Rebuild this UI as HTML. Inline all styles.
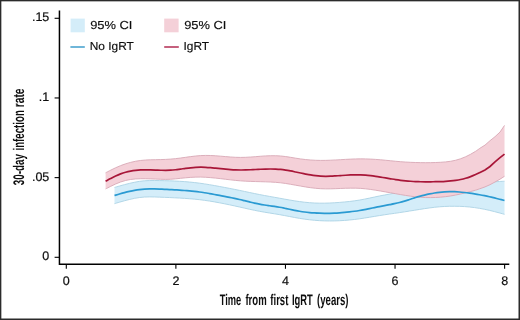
<!DOCTYPE html>
<html><head><meta charset="utf-8"><style>
html,body{margin:0;padding:0;background:#fff;}
svg{display:block;will-change:transform;font-family:"Liberation Sans",sans-serif;}
svg text{text-rendering:geometricPrecision;fill:#0d0d0d;}
</style></head><body>
<svg width="520" height="320" viewBox="0 0 520 320">
<rect x="0.6" y="0.6" width="518.65" height="318.65" fill="#fff" stroke="#2b2b2b" stroke-width="1.5"/>
<path d="M114.50,187.46 C115.33,187.22 117.83,186.47 119.50,186.00 C121.17,185.53 122.83,185.07 124.50,184.63 C126.17,184.20 127.83,183.78 129.50,183.38 C131.17,182.99 132.83,182.59 134.50,182.25 C136.17,181.91 137.83,181.60 139.50,181.35 C141.17,181.11 142.83,180.93 144.50,180.79 C146.17,180.66 147.83,180.59 149.50,180.54 C151.17,180.48 152.83,180.48 154.50,180.49 C156.17,180.49 157.83,180.53 159.50,180.56 C161.17,180.59 162.83,180.63 164.50,180.68 C166.17,180.72 167.83,180.77 169.50,180.82 C171.17,180.88 172.83,180.94 174.50,181.02 C176.17,181.10 177.83,181.18 179.50,181.28 C181.17,181.38 182.83,181.49 184.50,181.62 C186.17,181.74 187.83,181.88 189.50,182.04 C191.17,182.19 192.83,182.36 194.50,182.55 C196.17,182.74 197.83,182.95 199.50,183.17 C201.17,183.39 202.83,183.63 204.50,183.89 C206.17,184.14 207.83,184.41 209.50,184.69 C211.17,184.97 212.83,185.26 214.50,185.56 C216.17,185.86 217.83,186.17 219.50,186.48 C221.17,186.78 222.83,187.10 224.50,187.41 C226.17,187.73 227.83,188.05 229.50,188.38 C231.17,188.70 232.83,189.03 234.50,189.36 C236.17,189.70 237.83,190.04 239.50,190.38 C241.17,190.72 242.83,191.08 244.50,191.43 C246.17,191.78 247.83,192.14 249.50,192.49 C251.17,192.84 252.83,193.19 254.50,193.54 C256.17,193.88 257.83,194.22 259.50,194.54 C261.17,194.87 262.83,195.19 264.50,195.50 C266.17,195.81 267.83,196.11 269.50,196.41 C271.17,196.71 272.83,197.00 274.50,197.30 C276.17,197.59 277.83,197.89 279.50,198.19 C281.17,198.49 282.83,198.80 284.50,199.10 C286.17,199.40 287.83,199.70 289.50,199.99 C291.17,200.28 292.83,200.57 294.50,200.84 C296.17,201.10 297.83,201.36 299.50,201.59 C301.17,201.82 302.83,202.02 304.50,202.21 C306.17,202.39 307.83,202.55 309.50,202.68 C311.17,202.81 312.83,202.92 314.50,203.00 C316.17,203.08 317.83,203.13 319.50,203.16 C321.17,203.18 322.83,203.18 324.50,203.16 C326.17,203.13 327.83,203.08 329.50,203.01 C331.17,202.95 332.83,202.86 334.50,202.75 C336.17,202.65 337.83,202.53 339.50,202.40 C341.17,202.27 342.83,202.13 344.50,201.98 C346.17,201.82 347.83,201.66 349.50,201.47 C351.17,201.28 352.83,201.07 354.50,200.84 C356.17,200.61 357.83,200.35 359.50,200.07 C361.17,199.78 362.83,199.47 364.50,199.14 C366.17,198.81 367.83,198.45 369.50,198.10 C371.17,197.75 372.83,197.37 374.50,197.02 C376.17,196.67 377.83,196.31 379.50,195.98 C381.17,195.64 382.83,195.33 384.50,195.02 C386.17,194.71 387.83,194.42 389.50,194.11 C391.17,193.80 392.83,193.49 394.50,193.16 C396.17,192.83 397.83,192.48 399.50,192.10 C401.17,191.72 402.83,191.30 404.50,190.88 C406.17,190.45 407.83,189.99 409.50,189.55 C411.17,189.10 412.83,188.64 414.50,188.21 C416.17,187.79 417.83,187.36 419.50,186.98 C421.17,186.60 422.83,186.25 424.50,185.93 C426.17,185.60 427.83,185.32 429.50,185.05 C431.17,184.78 432.83,184.54 434.50,184.31 C436.17,184.08 437.83,183.88 439.50,183.68 C441.17,183.48 442.83,183.29 444.50,183.12 C446.17,182.95 447.83,182.79 449.50,182.65 C451.17,182.52 452.83,182.40 454.50,182.31 C456.17,182.21 457.83,182.15 459.50,182.10 C461.17,182.05 462.83,182.03 464.50,182.02 C466.17,182.01 467.83,182.01 469.50,182.02 C471.17,182.03 472.83,182.05 474.50,182.07 C476.17,182.08 477.83,182.11 479.50,182.11 C481.17,182.11 482.83,182.11 484.50,182.09 C486.17,182.06 487.83,182.02 489.50,181.96 C491.17,181.91 492.83,181.83 494.50,181.75 C496.17,181.67 497.83,181.59 499.50,181.50 C501.17,181.41 503.67,181.27 504.50,181.22 L504.50,214.33 C503.67,214.10 501.17,213.40 499.50,212.94 C497.83,212.49 496.17,212.04 494.50,211.62 C492.83,211.19 491.17,210.78 489.50,210.39 C487.83,210.01 486.17,209.64 484.50,209.30 C482.83,208.97 481.17,208.65 479.50,208.36 C477.83,208.08 476.17,207.82 474.50,207.59 C472.83,207.36 471.17,207.16 469.50,206.99 C467.83,206.83 466.17,206.69 464.50,206.58 C462.83,206.48 461.17,206.40 459.50,206.34 C457.83,206.29 456.17,206.26 454.50,206.25 C452.83,206.24 451.17,206.25 449.50,206.29 C447.83,206.32 446.17,206.38 444.50,206.47 C442.83,206.55 441.17,206.67 439.50,206.81 C437.83,206.95 436.17,207.12 434.50,207.31 C432.83,207.50 431.17,207.72 429.50,207.94 C427.83,208.17 426.17,208.42 424.50,208.67 C422.83,208.92 421.17,209.19 419.50,209.45 C417.83,209.72 416.17,209.99 414.50,210.26 C412.83,210.53 411.17,210.80 409.50,211.06 C407.83,211.33 406.17,211.60 404.50,211.86 C402.83,212.12 401.17,212.37 399.50,212.62 C397.83,212.87 396.17,213.11 394.50,213.35 C392.83,213.59 391.17,213.82 389.50,214.06 C387.83,214.31 386.17,214.54 384.50,214.79 C382.83,215.04 381.17,215.30 379.50,215.57 C377.83,215.83 376.17,216.12 374.50,216.40 C372.83,216.68 371.17,216.97 369.50,217.24 C367.83,217.52 366.17,217.80 364.50,218.07 C362.83,218.33 361.17,218.59 359.50,218.82 C357.83,219.05 356.17,219.27 354.50,219.47 C352.83,219.67 351.17,219.85 349.50,220.01 C347.83,220.17 346.17,220.31 344.50,220.43 C342.83,220.55 341.17,220.65 339.50,220.73 C337.83,220.81 336.17,220.87 334.50,220.91 C332.83,220.95 331.17,220.97 329.50,220.96 C327.83,220.96 326.17,220.93 324.50,220.88 C322.83,220.83 321.17,220.76 319.50,220.66 C317.83,220.56 316.17,220.43 314.50,220.29 C312.83,220.14 311.17,219.97 309.50,219.78 C307.83,219.59 306.17,219.37 304.50,219.13 C302.83,218.90 301.17,218.63 299.50,218.36 C297.83,218.08 296.17,217.78 294.50,217.47 C292.83,217.16 291.17,216.84 289.50,216.52 C287.83,216.20 286.17,215.87 284.50,215.56 C282.83,215.24 281.17,214.93 279.50,214.64 C277.83,214.35 276.17,214.08 274.50,213.80 C272.83,213.53 271.17,213.27 269.50,213.00 C267.83,212.73 266.17,212.47 264.50,212.19 C262.83,211.90 261.17,211.62 259.50,211.30 C257.83,210.99 256.17,210.66 254.50,210.32 C252.83,209.97 251.17,209.61 249.50,209.25 C247.83,208.89 246.17,208.51 244.50,208.14 C242.83,207.77 241.17,207.39 239.50,207.01 C237.83,206.64 236.17,206.27 234.50,205.90 C232.83,205.54 231.17,205.18 229.50,204.82 C227.83,204.47 226.17,204.12 224.50,203.79 C222.83,203.45 221.17,203.12 219.50,202.80 C217.83,202.49 216.17,202.18 214.50,201.89 C212.83,201.60 211.17,201.32 209.50,201.06 C207.83,200.80 206.17,200.55 204.50,200.32 C202.83,200.09 201.17,199.87 199.50,199.68 C197.83,199.48 196.17,199.31 194.50,199.15 C192.83,198.99 191.17,198.85 189.50,198.72 C187.83,198.59 186.17,198.47 184.50,198.36 C182.83,198.25 181.17,198.15 179.50,198.06 C177.83,197.97 176.17,197.88 174.50,197.80 C172.83,197.71 171.17,197.64 169.50,197.56 C167.83,197.49 166.17,197.42 164.50,197.35 C162.83,197.28 161.17,197.21 159.50,197.15 C157.83,197.09 156.17,197.01 154.50,196.97 C152.83,196.93 151.17,196.89 149.50,196.91 C147.83,196.92 146.17,196.96 144.50,197.06 C142.83,197.16 141.17,197.31 139.50,197.53 C137.83,197.74 136.17,198.03 134.50,198.36 C132.83,198.68 131.17,199.07 129.50,199.47 C127.83,199.87 126.17,200.30 124.50,200.75 C122.83,201.20 121.17,201.69 119.50,202.17 C117.83,202.66 115.33,203.43 114.50,203.68 Z" fill="#d4edf9"/>
<path d="M114.50,187.46 C115.33,187.22 117.83,186.47 119.50,186.00 C121.17,185.53 122.83,185.07 124.50,184.63 C126.17,184.20 127.83,183.78 129.50,183.38 C131.17,182.99 132.83,182.59 134.50,182.25 C136.17,181.91 137.83,181.60 139.50,181.35 C141.17,181.11 142.83,180.93 144.50,180.79 C146.17,180.66 147.83,180.59 149.50,180.54 C151.17,180.48 152.83,180.48 154.50,180.49 C156.17,180.49 157.83,180.53 159.50,180.56 C161.17,180.59 162.83,180.63 164.50,180.68 C166.17,180.72 167.83,180.77 169.50,180.82 C171.17,180.88 172.83,180.94 174.50,181.02 C176.17,181.10 177.83,181.18 179.50,181.28 C181.17,181.38 182.83,181.49 184.50,181.62 C186.17,181.74 187.83,181.88 189.50,182.04 C191.17,182.19 192.83,182.36 194.50,182.55 C196.17,182.74 197.83,182.95 199.50,183.17 C201.17,183.39 202.83,183.63 204.50,183.89 C206.17,184.14 207.83,184.41 209.50,184.69 C211.17,184.97 212.83,185.26 214.50,185.56 C216.17,185.86 217.83,186.17 219.50,186.48 C221.17,186.78 222.83,187.10 224.50,187.41 C226.17,187.73 227.83,188.05 229.50,188.38 C231.17,188.70 232.83,189.03 234.50,189.36 C236.17,189.70 237.83,190.04 239.50,190.38 C241.17,190.72 242.83,191.08 244.50,191.43 C246.17,191.78 247.83,192.14 249.50,192.49 C251.17,192.84 252.83,193.19 254.50,193.54 C256.17,193.88 257.83,194.22 259.50,194.54 C261.17,194.87 262.83,195.19 264.50,195.50 C266.17,195.81 267.83,196.11 269.50,196.41 C271.17,196.71 272.83,197.00 274.50,197.30 C276.17,197.59 277.83,197.89 279.50,198.19 C281.17,198.49 282.83,198.80 284.50,199.10 C286.17,199.40 287.83,199.70 289.50,199.99 C291.17,200.28 292.83,200.57 294.50,200.84 C296.17,201.10 297.83,201.36 299.50,201.59 C301.17,201.82 302.83,202.02 304.50,202.21 C306.17,202.39 307.83,202.55 309.50,202.68 C311.17,202.81 312.83,202.92 314.50,203.00 C316.17,203.08 317.83,203.13 319.50,203.16 C321.17,203.18 322.83,203.18 324.50,203.16 C326.17,203.13 327.83,203.08 329.50,203.01 C331.17,202.95 332.83,202.86 334.50,202.75 C336.17,202.65 337.83,202.53 339.50,202.40 C341.17,202.27 342.83,202.13 344.50,201.98 C346.17,201.82 347.83,201.66 349.50,201.47 C351.17,201.28 352.83,201.07 354.50,200.84 C356.17,200.61 357.83,200.35 359.50,200.07 C361.17,199.78 362.83,199.47 364.50,199.14 C366.17,198.81 367.83,198.45 369.50,198.10 C371.17,197.75 372.83,197.37 374.50,197.02 C376.17,196.67 377.83,196.31 379.50,195.98 C381.17,195.64 382.83,195.33 384.50,195.02 C386.17,194.71 387.83,194.42 389.50,194.11 C391.17,193.80 392.83,193.49 394.50,193.16 C396.17,192.83 397.83,192.48 399.50,192.10 C401.17,191.72 402.83,191.30 404.50,190.88 C406.17,190.45 407.83,189.99 409.50,189.55 C411.17,189.10 412.83,188.64 414.50,188.21 C416.17,187.79 417.83,187.36 419.50,186.98 C421.17,186.60 422.83,186.25 424.50,185.93 C426.17,185.60 427.83,185.32 429.50,185.05 C431.17,184.78 432.83,184.54 434.50,184.31 C436.17,184.08 437.83,183.88 439.50,183.68 C441.17,183.48 442.83,183.29 444.50,183.12 C446.17,182.95 447.83,182.79 449.50,182.65 C451.17,182.52 452.83,182.40 454.50,182.31 C456.17,182.21 457.83,182.15 459.50,182.10 C461.17,182.05 462.83,182.03 464.50,182.02 C466.17,182.01 467.83,182.01 469.50,182.02 C471.17,182.03 472.83,182.05 474.50,182.07 C476.17,182.08 477.83,182.11 479.50,182.11 C481.17,182.11 482.83,182.11 484.50,182.09 C486.17,182.06 487.83,182.02 489.50,181.96 C491.17,181.91 492.83,181.83 494.50,181.75 C496.17,181.67 497.83,181.59 499.50,181.50 C501.17,181.41 503.67,181.27 504.50,181.22 M114.50,203.68 C115.33,203.43 117.83,202.66 119.50,202.17 C121.17,201.69 122.83,201.20 124.50,200.75 C126.17,200.30 127.83,199.87 129.50,199.47 C131.17,199.07 132.83,198.68 134.50,198.36 C136.17,198.03 137.83,197.74 139.50,197.53 C141.17,197.31 142.83,197.16 144.50,197.06 C146.17,196.96 147.83,196.92 149.50,196.91 C151.17,196.89 152.83,196.93 154.50,196.97 C156.17,197.01 157.83,197.09 159.50,197.15 C161.17,197.21 162.83,197.28 164.50,197.35 C166.17,197.42 167.83,197.49 169.50,197.56 C171.17,197.64 172.83,197.71 174.50,197.80 C176.17,197.88 177.83,197.97 179.50,198.06 C181.17,198.15 182.83,198.25 184.50,198.36 C186.17,198.47 187.83,198.59 189.50,198.72 C191.17,198.85 192.83,198.99 194.50,199.15 C196.17,199.31 197.83,199.48 199.50,199.68 C201.17,199.87 202.83,200.09 204.50,200.32 C206.17,200.55 207.83,200.80 209.50,201.06 C211.17,201.32 212.83,201.60 214.50,201.89 C216.17,202.18 217.83,202.49 219.50,202.80 C221.17,203.12 222.83,203.45 224.50,203.79 C226.17,204.12 227.83,204.47 229.50,204.82 C231.17,205.18 232.83,205.54 234.50,205.90 C236.17,206.27 237.83,206.64 239.50,207.01 C241.17,207.39 242.83,207.77 244.50,208.14 C246.17,208.51 247.83,208.89 249.50,209.25 C251.17,209.61 252.83,209.97 254.50,210.32 C256.17,210.66 257.83,210.99 259.50,211.30 C261.17,211.62 262.83,211.90 264.50,212.19 C266.17,212.47 267.83,212.73 269.50,213.00 C271.17,213.27 272.83,213.53 274.50,213.80 C276.17,214.08 277.83,214.35 279.50,214.64 C281.17,214.93 282.83,215.24 284.50,215.56 C286.17,215.87 287.83,216.20 289.50,216.52 C291.17,216.84 292.83,217.16 294.50,217.47 C296.17,217.78 297.83,218.08 299.50,218.36 C301.17,218.63 302.83,218.90 304.50,219.13 C306.17,219.37 307.83,219.59 309.50,219.78 C311.17,219.97 312.83,220.14 314.50,220.29 C316.17,220.43 317.83,220.56 319.50,220.66 C321.17,220.76 322.83,220.83 324.50,220.88 C326.17,220.93 327.83,220.96 329.50,220.96 C331.17,220.97 332.83,220.95 334.50,220.91 C336.17,220.87 337.83,220.81 339.50,220.73 C341.17,220.65 342.83,220.55 344.50,220.43 C346.17,220.31 347.83,220.17 349.50,220.01 C351.17,219.85 352.83,219.67 354.50,219.47 C356.17,219.27 357.83,219.05 359.50,218.82 C361.17,218.59 362.83,218.33 364.50,218.07 C366.17,217.80 367.83,217.52 369.50,217.24 C371.17,216.97 372.83,216.68 374.50,216.40 C376.17,216.12 377.83,215.83 379.50,215.57 C381.17,215.30 382.83,215.04 384.50,214.79 C386.17,214.54 387.83,214.31 389.50,214.06 C391.17,213.82 392.83,213.59 394.50,213.35 C396.17,213.11 397.83,212.87 399.50,212.62 C401.17,212.37 402.83,212.12 404.50,211.86 C406.17,211.60 407.83,211.33 409.50,211.06 C411.17,210.80 412.83,210.53 414.50,210.26 C416.17,209.99 417.83,209.72 419.50,209.45 C421.17,209.19 422.83,208.92 424.50,208.67 C426.17,208.42 427.83,208.17 429.50,207.94 C431.17,207.72 432.83,207.50 434.50,207.31 C436.17,207.12 437.83,206.95 439.50,206.81 C441.17,206.67 442.83,206.55 444.50,206.47 C446.17,206.38 447.83,206.32 449.50,206.29 C451.17,206.25 452.83,206.24 454.50,206.25 C456.17,206.26 457.83,206.29 459.50,206.34 C461.17,206.40 462.83,206.48 464.50,206.58 C466.17,206.69 467.83,206.83 469.50,206.99 C471.17,207.16 472.83,207.36 474.50,207.59 C476.17,207.82 477.83,208.08 479.50,208.36 C481.17,208.65 482.83,208.97 484.50,209.30 C486.17,209.64 487.83,210.01 489.50,210.39 C491.17,210.78 492.83,211.19 494.50,211.62 C496.17,212.04 497.83,212.49 499.50,212.94 C501.17,213.40 503.67,214.10 504.50,214.33" fill="none" stroke="#acd3e4" stroke-width="0.9"/>
<path d="M105.60,172.80 C106.43,172.37 108.93,171.05 110.60,170.21 C112.27,169.38 113.93,168.55 115.60,167.78 C117.27,167.02 118.93,166.29 120.60,165.63 C122.27,164.97 123.93,164.38 125.60,163.84 C127.27,163.30 128.93,162.82 130.60,162.39 C132.27,161.96 133.93,161.58 135.60,161.26 C137.27,160.95 138.93,160.69 140.60,160.48 C142.27,160.27 143.93,160.14 145.60,160.02 C147.27,159.91 148.93,159.85 150.60,159.80 C152.27,159.74 153.93,159.73 155.60,159.69 C157.27,159.66 158.93,159.64 160.60,159.59 C162.27,159.54 163.93,159.49 165.60,159.41 C167.27,159.32 168.93,159.22 170.60,159.09 C172.27,158.96 173.93,158.80 175.60,158.63 C177.27,158.45 178.93,158.24 180.60,158.02 C182.27,157.81 183.93,157.56 185.60,157.32 C187.27,157.09 188.93,156.84 190.60,156.62 C192.27,156.40 193.93,156.18 195.60,156.00 C197.27,155.83 198.93,155.68 200.60,155.58 C202.27,155.49 203.93,155.44 205.60,155.43 C207.27,155.41 208.93,155.45 210.60,155.51 C212.27,155.56 213.93,155.66 215.60,155.77 C217.27,155.88 218.93,156.02 220.60,156.16 C222.27,156.30 223.93,156.45 225.60,156.60 C227.27,156.74 228.93,156.88 230.60,157.00 C232.27,157.12 233.93,157.23 235.60,157.30 C237.27,157.37 238.93,157.42 240.60,157.42 C242.27,157.42 243.93,157.37 245.60,157.31 C247.27,157.24 248.93,157.13 250.60,157.02 C252.27,156.92 253.93,156.78 255.60,156.65 C257.27,156.52 258.93,156.38 260.60,156.26 C262.27,156.14 263.93,156.01 265.60,155.92 C267.27,155.83 268.93,155.75 270.60,155.72 C272.27,155.69 273.93,155.67 275.60,155.72 C277.27,155.76 278.93,155.85 280.60,155.99 C282.27,156.13 283.93,156.34 285.60,156.56 C287.27,156.78 288.93,157.06 290.60,157.32 C292.27,157.59 293.93,157.89 295.60,158.16 C297.27,158.43 298.93,158.70 300.60,158.93 C302.27,159.17 303.93,159.38 305.60,159.55 C307.27,159.73 308.93,159.88 310.60,160.01 C312.27,160.13 313.93,160.22 315.60,160.29 C317.27,160.36 318.93,160.40 320.60,160.41 C322.27,160.42 323.93,160.40 325.60,160.37 C327.27,160.33 328.93,160.27 330.60,160.20 C332.27,160.13 333.93,160.05 335.60,159.96 C337.27,159.87 338.93,159.76 340.60,159.67 C342.27,159.57 343.93,159.47 345.60,159.38 C347.27,159.29 348.93,159.19 350.60,159.12 C352.27,159.05 353.93,158.98 355.60,158.94 C357.27,158.89 358.93,158.86 360.60,158.86 C362.27,158.86 363.93,158.88 365.60,158.92 C367.27,158.96 368.93,159.02 370.60,159.10 C372.27,159.18 373.93,159.28 375.60,159.40 C377.27,159.51 378.93,159.64 380.60,159.79 C382.27,159.93 383.93,160.09 385.60,160.25 C387.27,160.41 388.93,160.59 390.60,160.76 C392.27,160.92 393.93,161.09 395.60,161.25 C397.27,161.40 398.93,161.56 400.60,161.69 C402.27,161.82 403.93,161.94 405.60,162.05 C407.27,162.15 408.93,162.24 410.60,162.32 C412.27,162.40 413.93,162.46 415.60,162.51 C417.27,162.57 418.93,162.61 420.60,162.63 C422.27,162.66 423.93,162.68 425.60,162.69 C427.27,162.69 428.93,162.68 430.60,162.66 C432.27,162.63 433.93,162.59 435.60,162.53 C437.27,162.47 438.93,162.39 440.60,162.29 C442.27,162.19 443.93,162.08 445.60,161.91 C447.27,161.73 448.93,161.54 450.60,161.27 C452.27,160.99 453.93,160.67 455.60,160.25 C457.27,159.83 458.93,159.35 460.60,158.76 C462.27,158.18 463.93,157.52 465.60,156.76 C467.27,156.01 468.93,155.16 470.60,154.25 C472.27,153.34 474.03,152.32 475.60,151.31 C477.17,150.31 479.27,148.72 480.00,148.20 L485.00,145.10 L490.00,140.70 L495.00,136.70 L500.00,132.10 L504.50,125.40 L504.50,176.30 L500.00,179.20 L495.00,182.00 L490.00,184.70 L485.00,186.90 L480.00,188.70 C479.27,188.94 477.17,189.67 475.60,190.15 C474.03,190.62 472.27,191.10 470.60,191.54 C468.93,191.99 467.27,192.39 465.60,192.79 C463.93,193.20 462.27,193.60 460.60,193.98 C458.93,194.36 457.27,194.73 455.60,195.06 C453.93,195.39 452.27,195.70 450.60,195.96 C448.93,196.23 447.27,196.46 445.60,196.66 C443.93,196.86 442.27,197.03 440.60,197.17 C438.93,197.30 437.27,197.41 435.60,197.49 C433.93,197.56 432.27,197.61 430.60,197.62 C428.93,197.63 427.27,197.61 425.60,197.55 C423.93,197.50 422.27,197.41 420.60,197.29 C418.93,197.16 417.27,197.00 415.60,196.82 C413.93,196.64 412.27,196.42 410.60,196.18 C408.93,195.95 407.27,195.69 405.60,195.43 C403.93,195.16 402.27,194.87 400.60,194.59 C398.93,194.30 397.27,194.01 395.60,193.71 C393.93,193.42 392.27,193.12 390.60,192.82 C388.93,192.53 387.27,192.23 385.60,191.93 C383.93,191.64 382.27,191.34 380.60,191.06 C378.93,190.77 377.27,190.48 375.60,190.21 C373.93,189.94 372.27,189.68 370.60,189.45 C368.93,189.22 367.27,189.00 365.60,188.82 C363.93,188.64 362.27,188.49 360.60,188.38 C358.93,188.27 357.27,188.21 355.60,188.17 C353.93,188.13 352.27,188.14 350.60,188.16 C348.93,188.18 347.27,188.23 345.60,188.28 C343.93,188.34 342.27,188.41 340.60,188.48 C338.93,188.54 337.27,188.62 335.60,188.68 C333.93,188.74 332.27,188.80 330.60,188.82 C328.93,188.85 327.27,188.87 325.60,188.85 C323.93,188.83 322.27,188.79 320.60,188.69 C318.93,188.60 317.27,188.47 315.60,188.30 C313.93,188.14 312.27,187.93 310.60,187.70 C308.93,187.48 307.27,187.22 305.60,186.95 C303.93,186.68 302.27,186.39 300.60,186.09 C298.93,185.80 297.27,185.49 295.60,185.19 C293.93,184.89 292.27,184.58 290.60,184.30 C288.93,184.01 287.27,183.73 285.60,183.48 C283.93,183.23 282.27,183.00 280.60,182.81 C278.93,182.62 277.27,182.46 275.60,182.33 C273.93,182.20 272.27,182.11 270.60,182.02 C268.93,181.94 267.27,181.88 265.60,181.83 C263.93,181.77 262.27,181.73 260.60,181.69 C258.93,181.65 257.27,181.61 255.60,181.56 C253.93,181.51 252.27,181.46 250.60,181.40 C248.93,181.34 247.27,181.27 245.60,181.18 C243.93,181.08 242.27,180.98 240.60,180.85 C238.93,180.73 237.27,180.57 235.60,180.41 C233.93,180.24 232.27,180.06 230.60,179.87 C228.93,179.68 227.27,179.47 225.60,179.27 C223.93,179.07 222.27,178.87 220.60,178.67 C218.93,178.48 217.27,178.29 215.60,178.11 C213.93,177.94 212.27,177.77 210.60,177.63 C208.93,177.49 207.27,177.36 205.60,177.27 C203.93,177.18 202.27,177.11 200.60,177.09 C198.93,177.07 197.27,177.09 195.60,177.14 C193.93,177.19 192.27,177.28 190.60,177.39 C188.93,177.50 187.27,177.65 185.60,177.80 C183.93,177.95 182.27,178.13 180.60,178.31 C178.93,178.49 177.27,178.69 175.60,178.85 C173.93,179.01 172.27,179.18 170.60,179.27 C168.93,179.36 167.27,179.39 165.60,179.40 C163.93,179.40 162.27,179.35 160.60,179.29 C158.93,179.24 157.27,179.16 155.60,179.09 C153.93,179.02 152.27,178.94 150.60,178.88 C148.93,178.82 147.27,178.76 145.60,178.73 C143.93,178.71 142.27,178.69 140.60,178.72 C138.93,178.76 137.27,178.81 135.60,178.93 C133.93,179.06 132.27,179.22 130.60,179.48 C128.93,179.74 127.27,180.06 125.60,180.48 C123.93,180.90 122.27,181.40 120.60,181.99 C118.93,182.58 117.27,183.27 115.60,184.01 C113.93,184.74 112.27,185.57 110.60,186.40 C108.93,187.23 106.43,188.55 105.60,188.98 Z" fill="#f4d0d8"/>
<path d="M105.60,172.80 C106.43,172.37 108.93,171.05 110.60,170.21 C112.27,169.38 113.93,168.55 115.60,167.78 C117.27,167.02 118.93,166.29 120.60,165.63 C122.27,164.97 123.93,164.38 125.60,163.84 C127.27,163.30 128.93,162.82 130.60,162.39 C132.27,161.96 133.93,161.58 135.60,161.26 C137.27,160.95 138.93,160.69 140.60,160.48 C142.27,160.27 143.93,160.14 145.60,160.02 C147.27,159.91 148.93,159.85 150.60,159.80 C152.27,159.74 153.93,159.73 155.60,159.69 C157.27,159.66 158.93,159.64 160.60,159.59 C162.27,159.54 163.93,159.49 165.60,159.41 C167.27,159.32 168.93,159.22 170.60,159.09 C172.27,158.96 173.93,158.80 175.60,158.63 C177.27,158.45 178.93,158.24 180.60,158.02 C182.27,157.81 183.93,157.56 185.60,157.32 C187.27,157.09 188.93,156.84 190.60,156.62 C192.27,156.40 193.93,156.18 195.60,156.00 C197.27,155.83 198.93,155.68 200.60,155.58 C202.27,155.49 203.93,155.44 205.60,155.43 C207.27,155.41 208.93,155.45 210.60,155.51 C212.27,155.56 213.93,155.66 215.60,155.77 C217.27,155.88 218.93,156.02 220.60,156.16 C222.27,156.30 223.93,156.45 225.60,156.60 C227.27,156.74 228.93,156.88 230.60,157.00 C232.27,157.12 233.93,157.23 235.60,157.30 C237.27,157.37 238.93,157.42 240.60,157.42 C242.27,157.42 243.93,157.37 245.60,157.31 C247.27,157.24 248.93,157.13 250.60,157.02 C252.27,156.92 253.93,156.78 255.60,156.65 C257.27,156.52 258.93,156.38 260.60,156.26 C262.27,156.14 263.93,156.01 265.60,155.92 C267.27,155.83 268.93,155.75 270.60,155.72 C272.27,155.69 273.93,155.67 275.60,155.72 C277.27,155.76 278.93,155.85 280.60,155.99 C282.27,156.13 283.93,156.34 285.60,156.56 C287.27,156.78 288.93,157.06 290.60,157.32 C292.27,157.59 293.93,157.89 295.60,158.16 C297.27,158.43 298.93,158.70 300.60,158.93 C302.27,159.17 303.93,159.38 305.60,159.55 C307.27,159.73 308.93,159.88 310.60,160.01 C312.27,160.13 313.93,160.22 315.60,160.29 C317.27,160.36 318.93,160.40 320.60,160.41 C322.27,160.42 323.93,160.40 325.60,160.37 C327.27,160.33 328.93,160.27 330.60,160.20 C332.27,160.13 333.93,160.05 335.60,159.96 C337.27,159.87 338.93,159.76 340.60,159.67 C342.27,159.57 343.93,159.47 345.60,159.38 C347.27,159.29 348.93,159.19 350.60,159.12 C352.27,159.05 353.93,158.98 355.60,158.94 C357.27,158.89 358.93,158.86 360.60,158.86 C362.27,158.86 363.93,158.88 365.60,158.92 C367.27,158.96 368.93,159.02 370.60,159.10 C372.27,159.18 373.93,159.28 375.60,159.40 C377.27,159.51 378.93,159.64 380.60,159.79 C382.27,159.93 383.93,160.09 385.60,160.25 C387.27,160.41 388.93,160.59 390.60,160.76 C392.27,160.92 393.93,161.09 395.60,161.25 C397.27,161.40 398.93,161.56 400.60,161.69 C402.27,161.82 403.93,161.94 405.60,162.05 C407.27,162.15 408.93,162.24 410.60,162.32 C412.27,162.40 413.93,162.46 415.60,162.51 C417.27,162.57 418.93,162.61 420.60,162.63 C422.27,162.66 423.93,162.68 425.60,162.69 C427.27,162.69 428.93,162.68 430.60,162.66 C432.27,162.63 433.93,162.59 435.60,162.53 C437.27,162.47 438.93,162.39 440.60,162.29 C442.27,162.19 443.93,162.08 445.60,161.91 C447.27,161.73 448.93,161.54 450.60,161.27 C452.27,160.99 453.93,160.67 455.60,160.25 C457.27,159.83 458.93,159.35 460.60,158.76 C462.27,158.18 463.93,157.52 465.60,156.76 C467.27,156.01 468.93,155.16 470.60,154.25 C472.27,153.34 474.03,152.32 475.60,151.31 C477.17,150.31 479.27,148.72 480.00,148.20 L485.00,145.10 L490.00,140.70 L495.00,136.70 L500.00,132.10 L504.50,125.40 M105.60,188.98 C106.43,188.55 108.93,187.23 110.60,186.40 C112.27,185.57 113.93,184.74 115.60,184.01 C117.27,183.27 118.93,182.58 120.60,181.99 C122.27,181.40 123.93,180.90 125.60,180.48 C127.27,180.06 128.93,179.74 130.60,179.48 C132.27,179.22 133.93,179.06 135.60,178.93 C137.27,178.81 138.93,178.76 140.60,178.72 C142.27,178.69 143.93,178.71 145.60,178.73 C147.27,178.76 148.93,178.82 150.60,178.88 C152.27,178.94 153.93,179.02 155.60,179.09 C157.27,179.16 158.93,179.24 160.60,179.29 C162.27,179.35 163.93,179.40 165.60,179.40 C167.27,179.39 168.93,179.36 170.60,179.27 C172.27,179.18 173.93,179.01 175.60,178.85 C177.27,178.69 178.93,178.49 180.60,178.31 C182.27,178.13 183.93,177.95 185.60,177.80 C187.27,177.65 188.93,177.50 190.60,177.39 C192.27,177.28 193.93,177.19 195.60,177.14 C197.27,177.09 198.93,177.07 200.60,177.09 C202.27,177.11 203.93,177.18 205.60,177.27 C207.27,177.36 208.93,177.49 210.60,177.63 C212.27,177.77 213.93,177.94 215.60,178.11 C217.27,178.29 218.93,178.48 220.60,178.67 C222.27,178.87 223.93,179.07 225.60,179.27 C227.27,179.47 228.93,179.68 230.60,179.87 C232.27,180.06 233.93,180.24 235.60,180.41 C237.27,180.57 238.93,180.73 240.60,180.85 C242.27,180.98 243.93,181.08 245.60,181.18 C247.27,181.27 248.93,181.34 250.60,181.40 C252.27,181.46 253.93,181.51 255.60,181.56 C257.27,181.61 258.93,181.65 260.60,181.69 C262.27,181.73 263.93,181.77 265.60,181.83 C267.27,181.88 268.93,181.94 270.60,182.02 C272.27,182.11 273.93,182.20 275.60,182.33 C277.27,182.46 278.93,182.62 280.60,182.81 C282.27,183.00 283.93,183.23 285.60,183.48 C287.27,183.73 288.93,184.01 290.60,184.30 C292.27,184.58 293.93,184.89 295.60,185.19 C297.27,185.49 298.93,185.80 300.60,186.09 C302.27,186.39 303.93,186.68 305.60,186.95 C307.27,187.22 308.93,187.48 310.60,187.70 C312.27,187.93 313.93,188.14 315.60,188.30 C317.27,188.47 318.93,188.60 320.60,188.69 C322.27,188.79 323.93,188.83 325.60,188.85 C327.27,188.87 328.93,188.85 330.60,188.82 C332.27,188.80 333.93,188.74 335.60,188.68 C337.27,188.62 338.93,188.54 340.60,188.48 C342.27,188.41 343.93,188.34 345.60,188.28 C347.27,188.23 348.93,188.18 350.60,188.16 C352.27,188.14 353.93,188.13 355.60,188.17 C357.27,188.21 358.93,188.27 360.60,188.38 C362.27,188.49 363.93,188.64 365.60,188.82 C367.27,189.00 368.93,189.22 370.60,189.45 C372.27,189.68 373.93,189.94 375.60,190.21 C377.27,190.48 378.93,190.77 380.60,191.06 C382.27,191.34 383.93,191.64 385.60,191.93 C387.27,192.23 388.93,192.53 390.60,192.82 C392.27,193.12 393.93,193.42 395.60,193.71 C397.27,194.01 398.93,194.30 400.60,194.59 C402.27,194.87 403.93,195.16 405.60,195.43 C407.27,195.69 408.93,195.95 410.60,196.18 C412.27,196.42 413.93,196.64 415.60,196.82 C417.27,197.00 418.93,197.16 420.60,197.29 C422.27,197.41 423.93,197.50 425.60,197.55 C427.27,197.61 428.93,197.63 430.60,197.62 C432.27,197.61 433.93,197.56 435.60,197.49 C437.27,197.41 438.93,197.30 440.60,197.17 C442.27,197.03 443.93,196.86 445.60,196.66 C447.27,196.46 448.93,196.23 450.60,195.96 C452.27,195.70 453.93,195.39 455.60,195.06 C457.27,194.73 458.93,194.36 460.60,193.98 C462.27,193.60 463.93,193.20 465.60,192.79 C467.27,192.39 468.93,191.99 470.60,191.54 C472.27,191.10 474.03,190.62 475.60,190.15 C477.17,189.67 479.27,188.94 480.00,188.70 L485.00,186.90 L490.00,184.70 L495.00,182.00 L500.00,179.20 L504.50,176.30" fill="none" stroke="#d8a8b5" stroke-width="0.9"/>
<path d="M114.50,195.56 C115.33,195.31 117.83,194.53 119.50,194.04 C121.17,193.55 122.83,193.07 124.50,192.63 C126.17,192.18 127.83,191.76 129.50,191.37 C131.17,190.99 132.83,190.63 134.50,190.32 C136.17,190.02 137.83,189.75 139.50,189.54 C141.17,189.34 142.83,189.19 144.50,189.09 C146.17,188.98 147.83,188.94 149.50,188.91 C151.17,188.89 152.83,188.91 154.50,188.94 C156.17,188.97 157.83,189.03 159.50,189.09 C161.17,189.15 162.83,189.22 164.50,189.29 C166.17,189.37 167.83,189.45 169.50,189.54 C171.17,189.63 172.83,189.72 174.50,189.82 C176.17,189.92 177.83,190.02 179.50,190.13 C181.17,190.25 182.83,190.36 184.50,190.49 C186.17,190.62 187.83,190.75 189.50,190.90 C191.17,191.05 192.83,191.22 194.50,191.40 C196.17,191.58 197.83,191.78 199.50,192.01 C201.17,192.23 202.83,192.48 204.50,192.74 C206.17,193.00 207.83,193.29 209.50,193.58 C211.17,193.87 212.83,194.18 214.50,194.49 C216.17,194.79 217.83,195.11 219.50,195.43 C221.17,195.74 222.83,196.06 224.50,196.38 C226.17,196.70 227.83,197.02 229.50,197.35 C231.17,197.68 232.83,198.02 234.50,198.37 C236.17,198.72 237.83,199.09 239.50,199.47 C241.17,199.85 242.83,200.26 244.50,200.66 C246.17,201.07 247.83,201.49 249.50,201.89 C251.17,202.29 252.83,202.70 254.50,203.08 C256.17,203.45 257.83,203.81 259.50,204.13 C261.17,204.45 262.83,204.73 264.50,205.00 C266.17,205.27 267.83,205.50 269.50,205.74 C271.17,205.99 272.83,206.21 274.50,206.46 C276.17,206.71 277.83,206.97 279.50,207.26 C281.17,207.55 282.83,207.88 284.50,208.21 C286.17,208.55 287.83,208.91 289.50,209.27 C291.17,209.62 292.83,209.98 294.50,210.32 C296.17,210.65 297.83,210.98 299.50,211.27 C301.17,211.55 302.83,211.81 304.50,212.03 C306.17,212.25 307.83,212.43 309.50,212.59 C311.17,212.75 312.83,212.87 314.50,212.97 C316.17,213.08 317.83,213.15 319.50,213.21 C321.17,213.26 322.83,213.29 324.50,213.31 C326.17,213.32 327.83,213.31 329.50,213.28 C331.17,213.25 332.83,213.19 334.50,213.12 C336.17,213.05 337.83,212.95 339.50,212.84 C341.17,212.73 342.83,212.59 344.50,212.44 C346.17,212.28 347.83,212.10 349.50,211.91 C351.17,211.71 352.83,211.49 354.50,211.25 C356.17,211.01 357.83,210.75 359.50,210.47 C361.17,210.19 362.83,209.88 364.50,209.56 C366.17,209.25 367.83,208.91 369.50,208.58 C371.17,208.24 372.83,207.89 374.50,207.56 C376.17,207.22 377.83,206.88 379.50,206.56 C381.17,206.24 382.83,205.94 384.50,205.62 C386.17,205.31 387.83,205.01 389.50,204.69 C391.17,204.36 392.83,204.04 394.50,203.67 C396.17,203.30 397.83,202.92 399.50,202.49 C401.17,202.05 402.83,201.57 404.50,201.07 C406.17,200.58 407.83,200.04 409.50,199.51 C411.17,198.98 412.83,198.42 414.50,197.90 C416.17,197.38 417.83,196.86 419.50,196.38 C421.17,195.91 422.83,195.46 424.50,195.05 C426.17,194.64 427.83,194.26 429.50,193.92 C431.17,193.59 432.83,193.28 434.50,193.02 C436.17,192.76 437.83,192.53 439.50,192.34 C441.17,192.14 442.83,191.99 444.50,191.87 C446.17,191.76 447.83,191.68 449.50,191.66 C451.17,191.63 452.83,191.64 454.50,191.70 C456.17,191.76 457.83,191.87 459.50,192.01 C461.17,192.15 462.83,192.34 464.50,192.53 C466.17,192.73 467.83,192.96 469.50,193.20 C471.17,193.43 472.83,193.68 474.50,193.94 C476.17,194.20 477.83,194.47 479.50,194.76 C481.17,195.05 482.83,195.36 484.50,195.70 C486.17,196.03 487.83,196.39 489.50,196.77 C491.17,197.15 492.83,197.55 494.50,197.95 C496.17,198.36 497.83,198.78 499.50,199.20 C501.17,199.61 503.67,200.25 504.50,200.47" fill="none" stroke="#2a9ad2" stroke-width="1.7"/>
<path d="M105.60,181.24 C106.43,180.79 108.93,179.39 110.60,178.52 C112.27,177.65 113.93,176.78 115.60,176.01 C117.27,175.24 118.93,174.51 120.60,173.89 C122.27,173.27 123.93,172.74 125.60,172.28 C127.27,171.82 128.93,171.45 130.60,171.13 C132.27,170.81 133.93,170.56 135.60,170.36 C137.27,170.16 138.93,170.02 140.60,169.93 C142.27,169.83 143.93,169.80 145.60,169.79 C147.27,169.77 148.93,169.81 150.60,169.85 C152.27,169.89 153.93,169.96 155.60,170.03 C157.27,170.09 158.93,170.18 160.60,170.23 C162.27,170.28 163.93,170.35 165.60,170.35 C167.27,170.34 168.93,170.31 170.60,170.21 C172.27,170.10 173.93,169.92 175.60,169.73 C177.27,169.54 178.93,169.28 180.60,169.06 C182.27,168.84 183.93,168.59 185.60,168.38 C187.27,168.17 188.93,167.96 190.60,167.79 C192.27,167.62 193.93,167.47 195.60,167.37 C197.27,167.27 198.93,167.20 200.60,167.20 C202.27,167.19 203.93,167.24 205.60,167.32 C207.27,167.40 208.93,167.53 210.60,167.67 C212.27,167.81 213.93,167.99 215.60,168.16 C217.27,168.33 218.93,168.52 220.60,168.69 C222.27,168.86 223.93,169.03 225.60,169.18 C227.27,169.33 228.93,169.47 230.60,169.58 C232.27,169.70 233.93,169.80 235.60,169.87 C237.27,169.93 238.93,169.98 240.60,169.99 C242.27,170.00 243.93,169.98 245.60,169.94 C247.27,169.90 248.93,169.83 250.60,169.76 C252.27,169.69 253.93,169.60 255.60,169.51 C257.27,169.43 258.93,169.34 260.60,169.26 C262.27,169.18 263.93,169.11 265.60,169.06 C267.27,169.01 268.93,168.97 270.60,168.98 C272.27,168.98 273.93,169.00 275.60,169.08 C277.27,169.16 278.93,169.27 280.60,169.44 C282.27,169.61 283.93,169.84 285.60,170.09 C287.27,170.34 288.93,170.65 290.60,170.96 C292.27,171.27 293.93,171.62 295.60,171.96 C297.27,172.31 298.93,172.67 300.60,173.02 C302.27,173.37 303.93,173.72 305.60,174.05 C307.27,174.37 308.93,174.69 310.60,174.96 C312.27,175.24 313.93,175.49 315.60,175.69 C317.27,175.88 318.93,176.04 320.60,176.14 C322.27,176.24 323.93,176.28 325.60,176.29 C327.27,176.30 328.93,176.25 330.60,176.19 C332.27,176.13 333.93,176.02 335.60,175.92 C337.27,175.82 338.93,175.69 340.60,175.58 C342.27,175.46 343.93,175.33 345.60,175.23 C347.27,175.12 348.93,175.02 350.60,174.95 C352.27,174.88 353.93,174.82 355.60,174.80 C357.27,174.79 358.93,174.80 360.60,174.86 C362.27,174.92 363.93,175.02 365.60,175.16 C367.27,175.29 368.93,175.47 370.60,175.66 C372.27,175.86 373.93,176.09 375.60,176.33 C377.27,176.57 378.93,176.84 380.60,177.11 C382.27,177.38 383.93,177.67 385.60,177.95 C387.27,178.23 388.93,178.52 390.60,178.80 C392.27,179.07 393.93,179.35 395.60,179.60 C397.27,179.85 398.93,180.08 400.60,180.29 C402.27,180.50 403.93,180.68 405.60,180.84 C407.27,181.00 408.93,181.14 410.60,181.26 C412.27,181.37 413.93,181.47 415.60,181.55 C417.27,181.62 418.93,181.68 420.60,181.73 C422.27,181.77 423.93,181.80 425.60,181.81 C427.27,181.83 428.93,181.82 430.60,181.81 C432.27,181.79 433.93,181.76 435.60,181.72 C437.27,181.67 438.93,181.62 440.60,181.54 C442.27,181.47 443.93,181.39 445.60,181.28 C447.27,181.18 448.93,181.05 450.60,180.89 C452.27,180.73 453.93,180.55 455.60,180.31 C457.27,180.08 458.93,179.82 460.60,179.48 C462.27,179.14 463.93,178.75 465.60,178.27 C467.27,177.78 468.93,177.22 470.60,176.60 C472.27,175.97 474.03,175.23 475.60,174.54 C477.17,173.84 479.27,172.76 480.00,172.40 L485.00,169.90 L490.00,166.50 L495.00,161.90 L500.00,157.70 L504.50,154.20" fill="none" stroke="#a81638" stroke-width="1.7"/>
<path d="M59.45,10.5 V264.2 H509.3" fill="none" stroke="#000" stroke-width="1.5"/>
<path d="M54.6,257.30 H59.45" stroke="#000" stroke-width="1.1"/>
<text transform="translate(49.3,260.35) scale(1.0,1)" text-anchor="end" font-size="12.5" stroke="#0d0d0d" stroke-width="0.2">0</text>
<path d="M54.6,177.63 H59.45" stroke="#000" stroke-width="1.1"/>
<text transform="translate(49.3,180.68) scale(1.0,1)" text-anchor="end" font-size="12.5" stroke="#0d0d0d" stroke-width="0.2">.05</text>
<path d="M54.6,97.96 H59.45" stroke="#000" stroke-width="1.1"/>
<text transform="translate(49.3,101.01) scale(1.0,1)" text-anchor="end" font-size="12.5" stroke="#0d0d0d" stroke-width="0.2">.1</text>
<path d="M54.6,18.29 H59.45" stroke="#000" stroke-width="1.1"/>
<text transform="translate(49.3,21.34) scale(1.0,1)" text-anchor="end" font-size="12.5" stroke="#0d0d0d" stroke-width="0.2">.15</text>
<path d="M66.30,264 V268.8" stroke="#000" stroke-width="1.1"/>
<text transform="translate(66.30,285.0) scale(1.0,1)" text-anchor="middle" font-size="12.5" stroke="#0d0d0d" stroke-width="0.2">0</text>
<path d="M175.88,264 V268.8" stroke="#000" stroke-width="1.1"/>
<text transform="translate(175.88,285.0) scale(1.0,1)" text-anchor="middle" font-size="12.5" stroke="#0d0d0d" stroke-width="0.2">2</text>
<path d="M285.46,264 V268.8" stroke="#000" stroke-width="1.1"/>
<text transform="translate(285.46,285.0) scale(1.0,1)" text-anchor="middle" font-size="12.5" stroke="#0d0d0d" stroke-width="0.2">4</text>
<path d="M395.04,264 V268.8" stroke="#000" stroke-width="1.1"/>
<text transform="translate(395.04,285.0) scale(1.0,1)" text-anchor="middle" font-size="12.5" stroke="#0d0d0d" stroke-width="0.2">6</text>
<path d="M504.62,264 V268.8" stroke="#000" stroke-width="1.1"/>
<text transform="translate(504.62,285.0) scale(1.0,1)" text-anchor="middle" font-size="12.5" stroke="#0d0d0d" stroke-width="0.2">8</text>
<text transform="translate(219.68,305.4) scale(0.605,1)" font-size="15.4" font-weight="bold" >Time</text>
<text transform="translate(245.41,305.4) scale(0.621,1)" font-size="15.4" font-weight="bold" >from</text>
<text transform="translate(270.31,305.4) scale(0.619,1)" font-size="15.4" font-weight="bold" >first</text>
<text transform="translate(291.99,305.4) scale(0.609,1)" font-size="15.4" font-weight="bold" >IgRT</text>
<text transform="translate(317.00,305.4) scale(0.624,1)" font-size="15.4" font-weight="bold" >(years)</text>
<text transform="translate(23.5,185.26) rotate(-90) scale(0.640,1)" font-size="15.4" font-weight="bold" >30-day</text>
<text transform="translate(23.5,150.49) rotate(-90) scale(0.628,1)" font-size="15.4" font-weight="bold" >infection</text>
<text transform="translate(23.5,107.16) rotate(-90) scale(0.659,1)" font-size="15.4" font-weight="bold" >rate</text>
<rect x="70.6" y="18.6" width="14.2" height="13.7" fill="#d4edf9"/>
<rect x="164.2" y="18.6" width="14.4" height="13.7" fill="#f4d0d8"/>
<path d="M70.4,47 H84.8" stroke="#55a9d2" stroke-width="1.7"/>
<path d="M164.2,47 H178.8" stroke="#bb4466" stroke-width="1.7"/>
<text transform="translate(90.14,29.40) scale(1.112,1)" font-size="11.6" stroke="#0d0d0d" stroke-width="0.15">95% CI</text>
<text transform="translate(184.15,29.40) scale(1.110,1)" font-size="11.6" stroke="#0d0d0d" stroke-width="0.15">95% CI</text>
<text transform="translate(89.77,50.40) scale(1.026,1)" font-size="11.6" stroke="#0d0d0d" stroke-width="0.15">No IgRT</text>
<text transform="translate(183.57,50.40) scale(1.025,1)" font-size="11.6" stroke="#0d0d0d" stroke-width="0.15">IgRT</text>
</svg>
</body></html>
